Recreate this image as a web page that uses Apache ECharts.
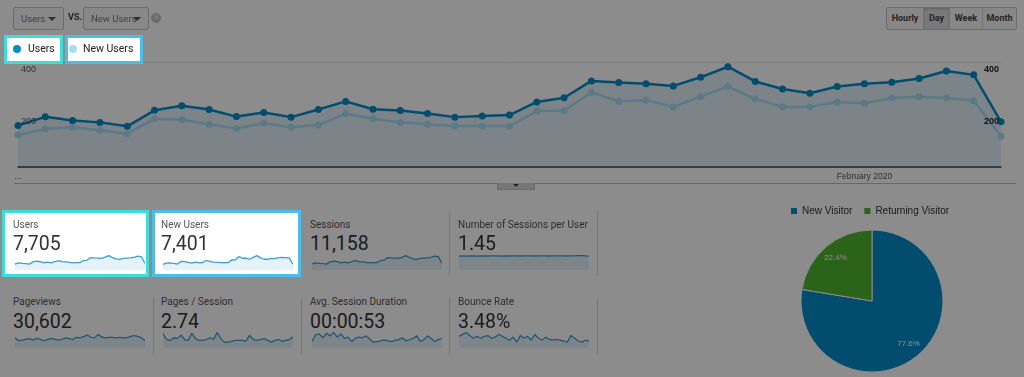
<!DOCTYPE html>
<html lang="en">
<head>
<meta charset="UTF-8">
<title>Audience Overview</title>
<style>
    *{ margin: 0; padding: 0; box-sizing: border-box; font-family: Roboto, "Noto Sans", Arial, sans-serif;}
    body{ width: 1024px; height: 377px; background: #fff; position: relative; overflow: hidden; color: #333;}
    .dd{ position: absolute; top: 7px; height: 23px; border: 1px solid #c4c4c4; border-radius: 2px; background: #f8f8f8; font-size: 9.5px; color: #777; line-height: 21px; padding-left: 7px;}
    .dd:after{ content: ""; position: absolute; right: 7px; top: 9px; border: 4px solid transparent; border-top: 4px solid #555;}
    .vs{ position: absolute; left: 68px; top: 12px; font-size: 9px; font-weight: bold; color: #444;}
    .x{ position: absolute; left: 151px; top: 13px; width: 10px; height: 10px; border-radius: 50%; background: #c4c4c4; color: #f4f4f4; font-size: 8px; line-height: 10px; text-align: center;}
    .btns{ position: absolute; left: 886px; top: 7px; height: 23px; border: 1px solid #c4c4c4; border-radius: 2px; background: #f6f6f6; display: flex;}
    .btns span{ display: block; height: 21px; line-height: 21px; font-size: 9px; font-weight: bold; color: #444; text-align: center; border-left: 1px solid #cfcfcf;}
    .btns span:first-child{ border-left: none;}
    .btns span.on{ background: #dcdcdc; box-shadow: inset 0 1px 2px rgba(0,0,0,0.2);}
    .lgbox{ position: absolute; top: 35px; height: 29px; background: #fff; z-index: 15;}
    .lgitem{ position: absolute; top: 41px; height: 16px; line-height: 16px; font-size: 10.5px; color: #222; z-index: 20;}
    .lgitem i{ position: absolute; top: 4px; width: 8px; height: 8px; border-radius: 50%;}
    .divider{ position: absolute; left: 14px; top: 183px; width: 1002px; height: 1px; background: #bdbdbd;}
    .tab{ position: absolute; left: 497px; top: 183px; width: 38px; height: 7px; background: #d9d9d9; border: 1px solid #c2c2c2; border-top: none;}
    .tab:after{ content: ""; position: absolute; left: 15px; top: 1px; border: 3px solid transparent; border-top: 3px solid #444;}
    .sep{ position: absolute; width: 1px; background: #d8d8d8;}
    .hibox{ position: absolute; top: 210px; height: 67px; background: #fff; z-index: 15;}
    .lbl{ position: absolute; font-size: 10px; line-height: 14px; color: #555; white-space: nowrap;}
    .val{ position: absolute; font-size: 19.5px; line-height: 24px; color: #333; white-space: nowrap;}
    .spark{ position: absolute; width: 130px;}
    .hi{ z-index: 20;}
    #main{ position: absolute; left: 0; top: 0; width: 1024px; height: 200px;}
    #pie{ position: absolute; left: 760px; top: 195px; width: 230px; height: 182px;}
    .overlay{ position: absolute; left: 0; top: 0; width: 1024px; height: 377px; background: rgba(0,0,0,0.45); z-index: 10;}
</style>
<script src="https://cdn.jsdelivr.net/npm/echarts@6/dist/echarts.min.js"></script>
</head>
<body>
    <div id="main"></div>

    <div class="dd" style="left:13px;width:51px;">Users</div>
    <div class="vs">VS.</div>
    <div class="dd" style="left:83px;width:66px;">New Users</div>
    <div class="x">&#x2715;</div>
    <div class="btns">
        <span style="width:36px;">Hourly</span>
        <span class="on" style="width:26px;">Day</span>
        <span style="width:33px;">Week</span>
        <span style="width:34px;">Month</span>
    </div>

    <div class="lgbox" style="left:4px;width:59px;border:3px solid #3fdcdc;"></div>
    <div class="lgbox" style="left:65px;width:78px;border:3px solid #4cbde9;"></div>
    <div class="lgitem" style="left:13px;padding-left:15px;"><i style="left:0;background:#058dc7;"></i>Users</div>
    <div class="lgitem" style="left:69px;padding-left:14px;"><i style="left:0;background:#a8dcf4;"></i>New Users</div>

    <div class="divider"></div>
    <div class="tab"></div>

    <div id="cards"></div>
    <div id="pie"></div>
    <div class="overlay"></div>

    <script>
        // 日期
        var dates = ['Jan 1', 'Jan 2', 'Jan 3', 'Jan 4', 'Jan 5', 'Jan 6', 'Jan 7', 'Jan 8', 'Jan 9', 'Jan 10',
            'Jan 11', 'Jan 12', 'Jan 13', 'Jan 14', 'Jan 15', 'Jan 16', 'Jan 17', 'Jan 18', 'Jan 19', 'Jan 20',
            'Jan 21', 'Jan 22', 'Jan 23', 'Jan 24', 'Jan 25', 'Jan 26', 'Jan 27', 'Jan 28', 'Jan 29', 'Jan 30',
            'Jan 31', 'Feb 1', 'Feb 2', 'Feb 3', 'Feb 4', 'Feb 5', 'Feb 6'];
        var usersData = [158, 191, 177, 170, 155, 216, 233, 219, 192, 208, 190, 219, 250, 220, 215, 204, 190, 194, 198,
            248, 264, 328, 322, 317, 309, 342, 382, 326, 297, 281, 307, 317, 323, 337, 366, 351, 172];
        var newUsersData = [122, 145, 151, 140, 127, 184, 180, 163, 147, 167, 151, 160, 203, 184, 170, 163, 156, 156, 156,
            213, 215, 284, 250, 255, 229, 268, 307, 259, 229, 229, 248, 243, 263, 268, 263, 252, 117];

        // 卡片里的小图
        var sessionsData = [190, 228, 212, 203, 186, 258, 278, 262, 229, 248, 227, 262, 298, 263, 257, 244, 227, 232, 237,
            296, 315, 392, 385, 379, 369, 409, 456, 390, 355, 336, 367, 379, 386, 403, 437, 420, 205];
        var perUserData = [1.43, 1.44, 1.42, 1.44, 1.45, 1.43, 1.44, 1.45, 1.44, 1.46, 1.45, 1.44, 1.43, 1.45, 1.44, 1.46,
            1.45, 1.44, 1.45, 1.46, 1.45, 1.44, 1.45, 1.46, 1.45, 1.44, 1.45, 1.46, 1.45, 1.45, 1.44, 1.45, 1.46, 1.47,
            1.48, 1.46, 1.43];
        var pageviewsData = [877, 627, 677, 752, 802, 677, 827, 752, 627, 727, 827, 777, 677, 752, 877, 802, 727, 927, 877,
            977, 1127, 927, 877, 1177, 952, 877, 927, 927, 877, 927, 877, 877, 1002, 1077, 1002, 877, 627];
        var pagesPerSessionData = [2.98, 2.70, 2.66, 2.78, 2.74, 2.90, 2.70, 2.66, 2.98, 2.74, 2.66, 2.66, 2.70, 2.78, 2.70,
            3.02, 2.74, 2.58, 2.58, 2.62, 2.66, 2.66, 2.66, 2.62, 2.90, 2.70, 2.66, 2.70, 2.74, 2.66, 2.58, 2.66, 2.70,
            2.62, 2.66, 2.70, 2.82];
        var durationData = [41, 63, 65, 53, 67, 59, 70, 55, 65, 51, 55, 41, 51, 55, 53, 59, 49, 39, 41, 43, 46, 43, 41, 45,
            47, 53, 43, 47, 51, 59, 41, 47, 59, 51, 41, 47, 51];
        var bounceData = [3.54, 3.69, 3.84, 3.60, 3.39, 3.54, 3.39, 3.54, 3.60, 3.39, 3.48, 3.69, 3.54, 3.39, 3.24, 3.48,
            3.09, 3.60, 3.39, 3.54, 3.24, 3.69, 3.39, 3.24, 3.48, 3.30, 3.24, 3.30, 3.24, 3.18, 3.09, 3.60, 3.39, 3.18,
            3.09, 3.24, 3.18];

        var cardNames = ['Users', 'New Users', 'Sessions', 'Number of Sessions per User',
            'Pageviews', 'Pages / Session', 'Avg. Session Duration', 'Bounce Rate'];
        var cardValues = ['7,705', '7,401', '11,158', '1.45', '30,602', '2.74', '00:00:53', '3.48%'];
        var cardSeries = [usersData, newUsersData, sessionsData, perUserData,
            pageviewsData, pagesPerSessionData, durationData, bounceData];

        var visitorNames = ['New Visitor', 'Returning Visitor'];
        var visitorShares = [77.6, 22.4];

        var blue = '#058dc7';
        var lightBlue = '#a8dcf4';
        var green = '#50b432';
        var pieColors = [blue, green];

        // 主折线图
        var main = echarts.init(document.getElementById('main'));
        var labelFmt = function (v) { return v ? v : ''; };
        main.setOption({
            animation: false,
            grid: { left: 18, right: 23, top: 62, height: 105 },
            xAxis: {
                type: 'category',
                data: dates,
                boundaryGap: false,
                axisLine: { lineStyle: { color: '#444', width: 1.5 } },
                axisTick: { show: false },
                axisLabel: {
                    interval: function (i, v) { return i === 0 || v === 'Feb 1'; },
                    formatter: function (v, i) { return i === 0 ? '...' : 'February 2020'; },
                    fontSize: 8.5,
                    color: '#555',
                    margin: 5
                },
                z: 10
            },
            yAxis: [{
                type: 'value', min: 0, max: 400, interval: 200, z: 10,
                axisLine: { show: false }, axisTick: { show: false }, splitLine: { show: false },
                axisLabel: {
                    inside: true, margin: 3, fontSize: 9, color: '#555',
                    verticalAlign: 'top', padding: [3, 0, 0, 0], formatter: labelFmt
                }
            }, {
                type: 'value', min: 0, max: 400, interval: 200, position: 'right', z: 10,
                axisLine: { show: false }, axisTick: { show: false }, splitLine: { show: false },
                axisLabel: {
                    inside: true, margin: 2, fontSize: 9, color: '#222', fontWeight: 'bold',
                    verticalAlign: 'top', padding: [3, 0, 0, 0], formatter: labelFmt
                }
            }, {
                // 只画顶部网格线
                type: 'value', min: 0, max: 400, interval: 400, z: 0,
                axisLine: { show: false }, axisTick: { show: false }, axisLabel: { show: false },
                splitLine: { lineStyle: { color: '#e4e4e4' } }
            }],
            series: [{
                name: 'Users',
                type: 'line',
                data: usersData,
                symbol: 'circle',
                symbolSize: 7,
                lineStyle: { color: blue, width: 2.5 },
                itemStyle: { color: blue },
                areaStyle: { color: '#e3f0f9', opacity: 1 },
                z: 2
            }, {
                name: 'New Users',
                type: 'line',
                yAxisIndex: 1,
                data: newUsersData,
                symbol: 'circle',
                symbolSize: 7,
                lineStyle: { color: lightBlue, width: 2.5 },
                itemStyle: { color: lightBlue },
                z: 3
            }]
        });

        // 指标卡片
        var cardsEl = document.getElementById('cards');
        var textLeft = [13, 161, 310, 458];
        var sparkLeft = [15, 163, 312, 459];
        var rowLabelTop = [218, 295];
        var rowValueTop = [232, 310];
        var rowSparkTop = [252, 331];
        var rowSparkH = [18, 17];

        function addEl(cls, css, txt) {
            var d = document.createElement('div');
            d.className = cls;
            d.style.cssText = css;
            if (txt) d.textContent = txt;
            cardsEl.appendChild(d);
            return d;
        }

        // 高亮框
        addEl('hibox', 'left:2px;width:147px;border:3px solid #3fdcdc;');
        addEl('hibox', 'left:152px;width:149px;border:3px solid #4cbde9;');

        // 分隔线
        addEl('sep', 'left:449px;top:211px;height:65px;');
        addEl('sep', 'left:597px;top:211px;height:65px;');
        addEl('sep', 'left:153px;top:298px;height:57px;');
        addEl('sep', 'left:301px;top:298px;height:57px;');
        addEl('sep', 'left:449px;top:298px;height:57px;');
        addEl('sep', 'left:597px;top:298px;height:57px;');

        cardNames.forEach(function (name, i) {
            var row = Math.floor(i / 4), col = i % 4;
            var hi = i < 2 ? ' hi' : '';
            addEl('lbl' + hi, 'left:' + textLeft[col] + 'px;top:' + rowLabelTop[row] + 'px;', name);
            addEl('val' + hi, 'left:' + textLeft[col] + 'px;top:' + rowValueTop[row] + 'px;', cardValues[i]);
            var sp = addEl('spark' + hi, 'left:' + sparkLeft[col] + 'px;top:' + rowSparkTop[row] + 'px;height:' + rowSparkH[row] + 'px;');
            var tight = i >= 5;
            var c = echarts.init(sp);
            c.setOption({
                animation: false,
                grid: { left: 0, right: 0, top: 0, bottom: 0 },
                xAxis: { type: 'category', data: dates, boundaryGap: false, show: false },
                yAxis: {
                    type: 'value', show: false,
                    min: function (v) { return tight ? v.min - (v.max - v.min) * 0.6 : 0; },
                    max: function (v) { return tight ? v.max + (v.max - v.min) * 0.15 : v.max * 1.25; }
                },
                series: [{
                    type: 'line',
                    data: cardSeries[i],
                    showSymbol: false,
                    lineStyle: { color: '#3a9fd6', width: 1.3 },
                    areaStyle: { color: '#e6f2fa', opacity: 1 }
                }]
            });
        });

        // 饼图
        var pie = echarts.init(document.getElementById('pie'));
        pie.setOption({
            animation: false,
            legend: {
                left: 24, top: 6,
                icon: 'rect', itemWidth: 8, itemHeight: 8, itemGap: 10,
                textStyle: { fontSize: 10, color: '#333', padding: [0, 0, 0, -1] },
                data: visitorNames.map(function (n, i) {
                    return { name: n, itemStyle: { color: pieColors[i] } };
                })
            },
            series: [{
                type: 'pie',
                center: [112, 106],
                radius: [0, 71],
                startAngle: 90,
                data: visitorNames.map(function (n, i) {
                    return { name: n, value: visitorShares[i], itemStyle: { color: pieColors[i] } };
                }),
                label: { show: false },
                labelLine: { show: false },
                itemStyle: { borderColor: '#fff', borderWidth: 1 }
            }, {
                // 透明外环，只用来放百分比
                type: 'pie',
                center: [112, 106],
                radius: [36, 71],
                startAngle: 90,
                data: visitorNames.map(function (n, i) {
                    return { name: n, value: visitorShares[i], itemStyle: { color: 'rgba(0,0,0,0)' } };
                }),
                label: {
                    show: true, position: 'inside', fontSize: 8, color: '#fff',
                    formatter: function (p) { return p.value.toFixed(1) + '%'; }
                },
                labelLine: { show: false },
                itemStyle: { borderWidth: 0 },
                silent: true
            }]
        });
    </script>
</body>
</html>
